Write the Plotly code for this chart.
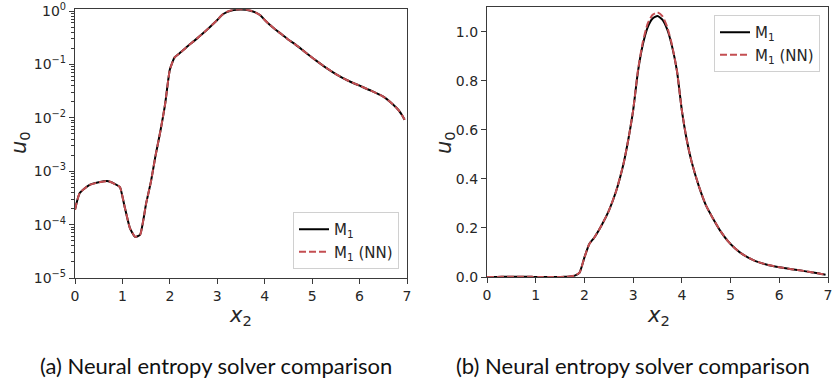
import plotly.graph_objects as go

# ---- data ----
x2 = [0.0, 0.1, 0.3, 0.5, 0.7, 0.9, 0.95, 1.05, 1.16, 1.27, 1.37, 1.5, 1.6, 1.7, 1.8, 1.9,
      2.0, 2.1, 2.2, 2.35, 2.5, 2.65, 2.8, 2.9, 3.0, 3.1, 3.2, 3.3, 3.4, 3.5, 3.6, 3.7, 3.8,
      3.9, 4.0, 4.1, 4.2, 4.35, 4.5, 4.65, 4.8, 4.95, 5.1, 5.25, 5.5, 5.75, 6.0, 6.25, 6.5,
      6.7, 6.82, 6.9, 6.95]
u0_m1 = [1.9e-4, 3.9e-4, 5.5e-4, 6.2e-4, 6.5e-4, 5.4e-4, 5.0e-4, 2.1e-4, 8.5e-5, 5.9e-5, 6.4e-5,
         2.5e-4, 6.3e-4, 2.0e-3, 5.6e-3, 0.018,
         0.08, 0.135, 0.16, 0.21, 0.27, 0.35, 0.46, 0.56, 0.68, 0.84, 0.95, 1.02, 1.055, 1.065,
         1.05, 1.01, 0.94, 0.84, 0.68, 0.56, 0.47, 0.37, 0.29, 0.235, 0.185, 0.145, 0.115,
         0.092, 0.066, 0.05, 0.04, 0.032, 0.025, 0.018, 0.014, 0.011, 0.0092]
u0_m1_nn = [1.9e-4, 3.9e-4, 5.5e-4, 6.2e-4, 6.5e-4, 5.4e-4, 5.0e-4, 2.1e-4, 8.5e-5, 5.9e-5, 6.4e-5,
            2.5e-4, 6.3e-4, 2.0e-3, 5.6e-3, 0.018,
            0.08, 0.135, 0.16, 0.21, 0.27, 0.35, 0.46, 0.56, 0.68, 0.845, 0.96, 1.035, 1.07, 1.08,
            1.065, 1.02, 0.945, 0.84, 0.68, 0.56, 0.47, 0.37, 0.29, 0.235, 0.185, 0.145, 0.115,
            0.092, 0.066, 0.05, 0.04, 0.032, 0.025, 0.018, 0.014, 0.011, 0.0092]

series_names = ["M<sub>1</sub>", "M<sub>1</sub> (NN)"]
log_tick_vals = [1e-5, 1e-4, 1e-3, 1e-2, 1e-1, 1e0]
log_tick_text = ["10<sup>\u22125</sup>", "10<sup>\u22124</sup>", "10<sup>\u22123</sup>",
                 "10<sup>\u22122</sup>", "10<sup>\u22121</sup>", "10<sup>0</sup>"]
lin_tick_vals = [0.0, 0.2, 0.4, 0.6, 0.8, 1.0]
lin_tick_text = ["0.0", "0.2", "0.4", "0.6", "0.8", "1.0"]
x_tick_vals = [0, 1, 2, 3, 4, 5, 6, 7]
captions = ["(a) Neural entropy solver comparison", "(b) Neural entropy solver comparison"]

W, H = 833, 381
BLACK = "#000000"
RED = "#c44e52"
FRAME = "#3a3a3a"
TXT = "#262626"

fig = go.Figure()
for xa, ya, leg in [("x", "y", "legend"), ("x2", "y2", "legend2")]:
    fig.add_trace(go.Scatter(x=x2, y=u0_m1, mode="lines", name=series_names[0],
                             line=dict(color=BLACK, width=2, shape="spline", smoothing=0.5),
                             xaxis=xa, yaxis=ya, legend=leg))
    fig.add_trace(go.Scatter(x=x2, y=u0_m1_nn, mode="lines", name=series_names[1],
                             line=dict(color=RED, width=2, dash="7px,3px",
                                       shape="spline", smoothing=0.5),
                             xaxis=xa, yaxis=ya, legend=leg))

def px_x(p):
    return p / W

def px_y(p):
    return 1 - p / H

axis_common = dict(showline=True, mirror=True, linecolor=FRAME, linewidth=1.25,
                   ticks="outside", ticklen=5, tickwidth=1.25, tickcolor=FRAME,
                   showgrid=False, zeroline=False, automargin=False,
                   tickfont=dict(family="DejaVu Sans", size=14, color=TXT))

minor_vals = [m * 10 ** e for e in range(-5, 0) for m in range(2, 10)]

legend_common = dict(bgcolor="rgba(255,255,255,0.8)", bordercolor="#d0d0d0", borderwidth=1,
                     font=dict(family="DejaVu Sans", size=15, color=TXT), itemwidth=30,
                     tracegroupgap=0)

fig.update_layout(
    width=W, height=H, margin=dict(l=0, r=0, t=0, b=0, autoexpand=False),
    paper_bgcolor="white", plot_bgcolor="white",
    xaxis=dict(domain=[px_x(75), px_x(407)], range=[0, 7], anchor="y",
               tickvals=x_tick_vals, **axis_common),
    yaxis=dict(domain=[px_y(278), px_y(9.3)], type="log", range=[-5, 0.032], anchor="x",
               tickvals=log_tick_vals, ticktext=log_tick_text,
               minor=dict(tickvals=minor_vals, ticks="outside", ticklen=3, tickwidth=1,
                          tickcolor=FRAME),
               **axis_common),
    xaxis2=dict(domain=[px_x(487), px_x(828)], range=[0, 7], anchor="y2",
                tickvals=x_tick_vals, **axis_common),
    yaxis2=dict(domain=[px_y(277), px_y(6.7)], range=[0, 1.103], anchor="x2",
                tickvals=lin_tick_vals, ticktext=lin_tick_text, **axis_common),
    legend=dict(x=px_x(399), y=px_y(269), xanchor="right", yanchor="bottom", **legend_common),
    legend2=dict(x=px_x(820), y=px_y(15), xanchor="right", yanchor="top", **legend_common),
    showlegend=True,
)

annotations = []
for cx in [20, 445]:
    annotations.append(dict(text="<i>u</i><sub>0</sub>", x=px_x(cx), y=px_y(143),
                            xref="paper", yref="paper", showarrow=False, textangle=-90,
                            xanchor="center", yanchor="middle",
                            font=dict(family="DejaVu Sans", size=21, color=TXT)))
for cx in [240, 658]:
    annotations.append(dict(text="<i>x</i><sub>2</sub>", x=px_x(cx), y=px_y(316),
                            xref="paper", yref="paper", showarrow=False,
                            xanchor="center", yanchor="middle",
                            font=dict(family="DejaVu Sans", size=21, color=TXT)))
for cx, cap in zip([216, 633], captions):
    annotations.append(dict(text=cap, x=px_x(cx), y=px_y(365), xref="paper", yref="paper",
                            showarrow=False, xanchor="center", yanchor="middle",
                            font=dict(family="Lato", size=22, color="#111111")))
fig.update_layout(annotations=annotations)

fig.write_html("out.html", config={"displayModeBar": False},
               post_script="document.body.style.margin='0';document.body.style.overflow='hidden';")
